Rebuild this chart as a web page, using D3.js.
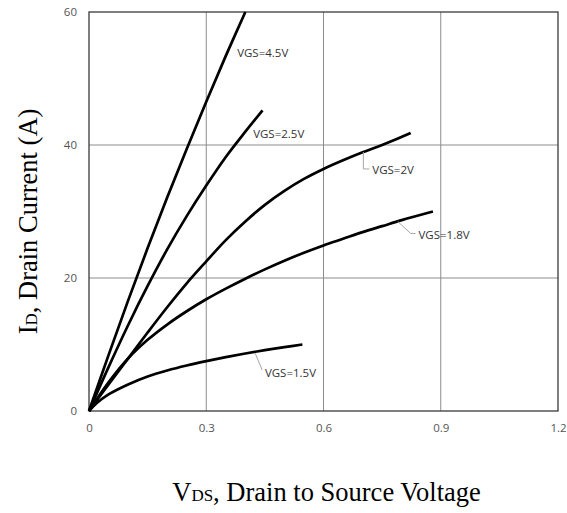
<!DOCTYPE html>
<html><head><meta charset="utf-8">
<script src="https://cdn.jsdelivr.net/npm/d3@7"></script>
<style>body{margin:0;background:#fff}svg{display:block}</style>
</head><body>
<svg id="c" width="567" height="513"></svg>
<script>
// ---- data ----
const xTicks = [0, 0.3, 0.6, 0.9, 1.2];
const xTickLabels = ["0", "0.3", "0.6", "0.9", "1.2"];
const yTicks = [0, 20, 40, 60];
const yTickLabels = ["0", "20", "40", "60"];
const seriesNames = ["VGS=4.5V", "VGS=2.5V", "VGS=2V", "VGS=1.8V", "VGS=1.5V"];
const vgs45 = [[0,0],[0.05,8.4],[0.1,16.6],[0.15,24.5],[0.2,32.1],[0.25,39.4],[0.3,46.5],[0.35,53.4],[0.4,60]];
const vgs25 = [[0,0],[0.05,6.6],[0.1,12.9],[0.15,18.8],[0.2,24.3],[0.25,29.3],[0.3,33.9],[0.35,38.2],[0.4,42.0],[0.444,45.2]];
const vgs20 = [[0,0],[0.05,4.0],[0.1,7.9],[0.15,11.8],[0.2,15.6],[0.25,19.2],[0.3,22.5],[0.35,25.7],[0.4,28.5],[0.45,31.0],[0.5,33.1],[0.55,34.9],[0.6,36.4],[0.65,37.7],[0.7,38.9],[0.75,40.0],[0.823,41.8]];
const vgs18 = [[0,0],[0.05,4.3],[0.1,7.9],[0.15,10.7],[0.2,13.0],[0.25,15.0],[0.3,16.8],[0.35,18.4],[0.4,19.9],[0.45,21.3],[0.5,22.6],[0.55,23.8],[0.6,24.9],[0.65,25.9],[0.7,26.9],[0.75,27.8],[0.8,28.7],[0.88,30.0]];
const vgs15 = [[0,0],[0.02,1.2],[0.05,2.5],[0.1,4.0],[0.15,5.2],[0.2,6.1],[0.25,6.85],[0.3,7.5],[0.35,8.1],[0.4,8.65],[0.45,9.15],[0.5,9.6],[0.546,10.0]];
const seriesData = [vgs45, vgs25, vgs20, vgs18, vgs15];
// label anchors (V, I) and leader line points (V, I)
const labelPos = [[0.379,53.2],[0.42,41.1],[0.725,35.6],[0.843,25.9],[0.45,5.1]];
const leaderStart = [null, null, [0.702,38.95],[0.79,28.5],[0.425,8.7]];
const leaderBend = [null, null, [0.702,36.4],[0.823,26.7],[0.443,6.2]];

// ---- drawing ----
const svg = d3.select("#c");
const x = d3.scaleLinear().domain([0, 1.2]).range([89, 558]);
const y = d3.scaleLinear().domain([0, 60]).range([411, 12]);

// grid
svg.append("g").selectAll("line").data(xTicks.slice(1, -1)).join("line")
  .attr("x1", d => x(d)).attr("x2", d => x(d)).attr("y1", y(0)).attr("y2", y(60))
  .attr("stroke", "#8c8c8c").attr("stroke-width", 1);
svg.append("g").selectAll("line").data(yTicks.slice(1, -1)).join("line")
  .attr("x1", x(0)).attr("x2", x(1.2)).attr("y1", d => y(d)).attr("y2", d => y(d))
  .attr("stroke", "#8c8c8c").attr("stroke-width", 1);

// frame
svg.append("rect").attr("x", x(0)).attr("y", y(60))
  .attr("width", x(1.2) - x(0)).attr("height", y(0) - y(60))
  .attr("fill", "none").attr("stroke", "#3a3a3a").attr("stroke-width", 1.3);

// axes tick labels
const xAxis = d3.axisBottom(x).tickValues(xTicks).tickFormat((d, i) => xTickLabels[i]).tickSize(0).tickPadding(13);
const gx = svg.append("g").attr("transform", `translate(0,${y(0)})`).call(xAxis);
const yAxis = d3.axisLeft(y).tickValues(yTicks).tickFormat((d, i) => yTickLabels[i]).tickSize(0).tickPadding(12);
const gy = svg.append("g").attr("transform", `translate(${x(0)},0)`).call(yAxis);
[gx, gy].forEach(g => {
  g.select(".domain").remove();
  g.selectAll("text").attr("font-family", "'Open Sans', sans-serif").attr("font-size", 11.5).attr("fill", "#555");
});

// curves
const line = d3.line().x(d => x(d[0])).y(d => y(d[1])).curve(d3.curveCatmullRom.alpha(0.5));
svg.append("g").selectAll("path").data(seriesData).join("path")
  .attr("d", line).attr("fill", "none").attr("stroke", "#000").attr("stroke-width", 2.7)
  .attr("stroke-linecap", "butt");

// leaders
seriesNames.forEach((n, i) => {
  if (!leaderStart[i]) return;
  const p0 = leaderStart[i], p1 = leaderBend[i], t = labelPos[i];
  svg.append("path")
    .attr("d", `M${x(p0[0])},${y(p0[1])}L${x(p1[0])},${y(p1[1])}L${x(t[0]) - 3},${y(p1[1])}`)
    .attr("fill", "none").attr("stroke", "#a6a6a6").attr("stroke-width", 1);
});

// labels
svg.append("g").selectAll("text").data(seriesNames).join("text")
  .attr("x", (d, i) => x(labelPos[i][0])).attr("y", (d, i) => y(labelPos[i][1]))
  .attr("font-family", "'Open Sans', sans-serif").attr("font-size", 11.5).attr("fill", "#333")
  .text(d => d);

// axis titles
const xt = svg.append("text").attr("x", 326.5).attr("y", 501)
  .attr("text-anchor", "middle").attr("font-family", "'Liberation Serif', 'Times New Roman', serif")
  .attr("font-size", 26.5).attr("fill", "#000");
xt.append("tspan").text("V");
xt.append("tspan").attr("font-size", 17).text("DS");
xt.append("tspan").text(", Drain to Source Voltage");

const yt = svg.append("text").attr("transform", `translate(37,221.5) rotate(-90)`)
  .attr("text-anchor", "middle").attr("font-family", "'Liberation Serif', 'Times New Roman', serif")
  .attr("font-size", 26.5).attr("fill", "#000");
yt.append("tspan").text("I");
yt.append("tspan").attr("font-size", 17).text("D");
yt.append("tspan").text(", Drain Current (A)");
</script>
</body></html>
